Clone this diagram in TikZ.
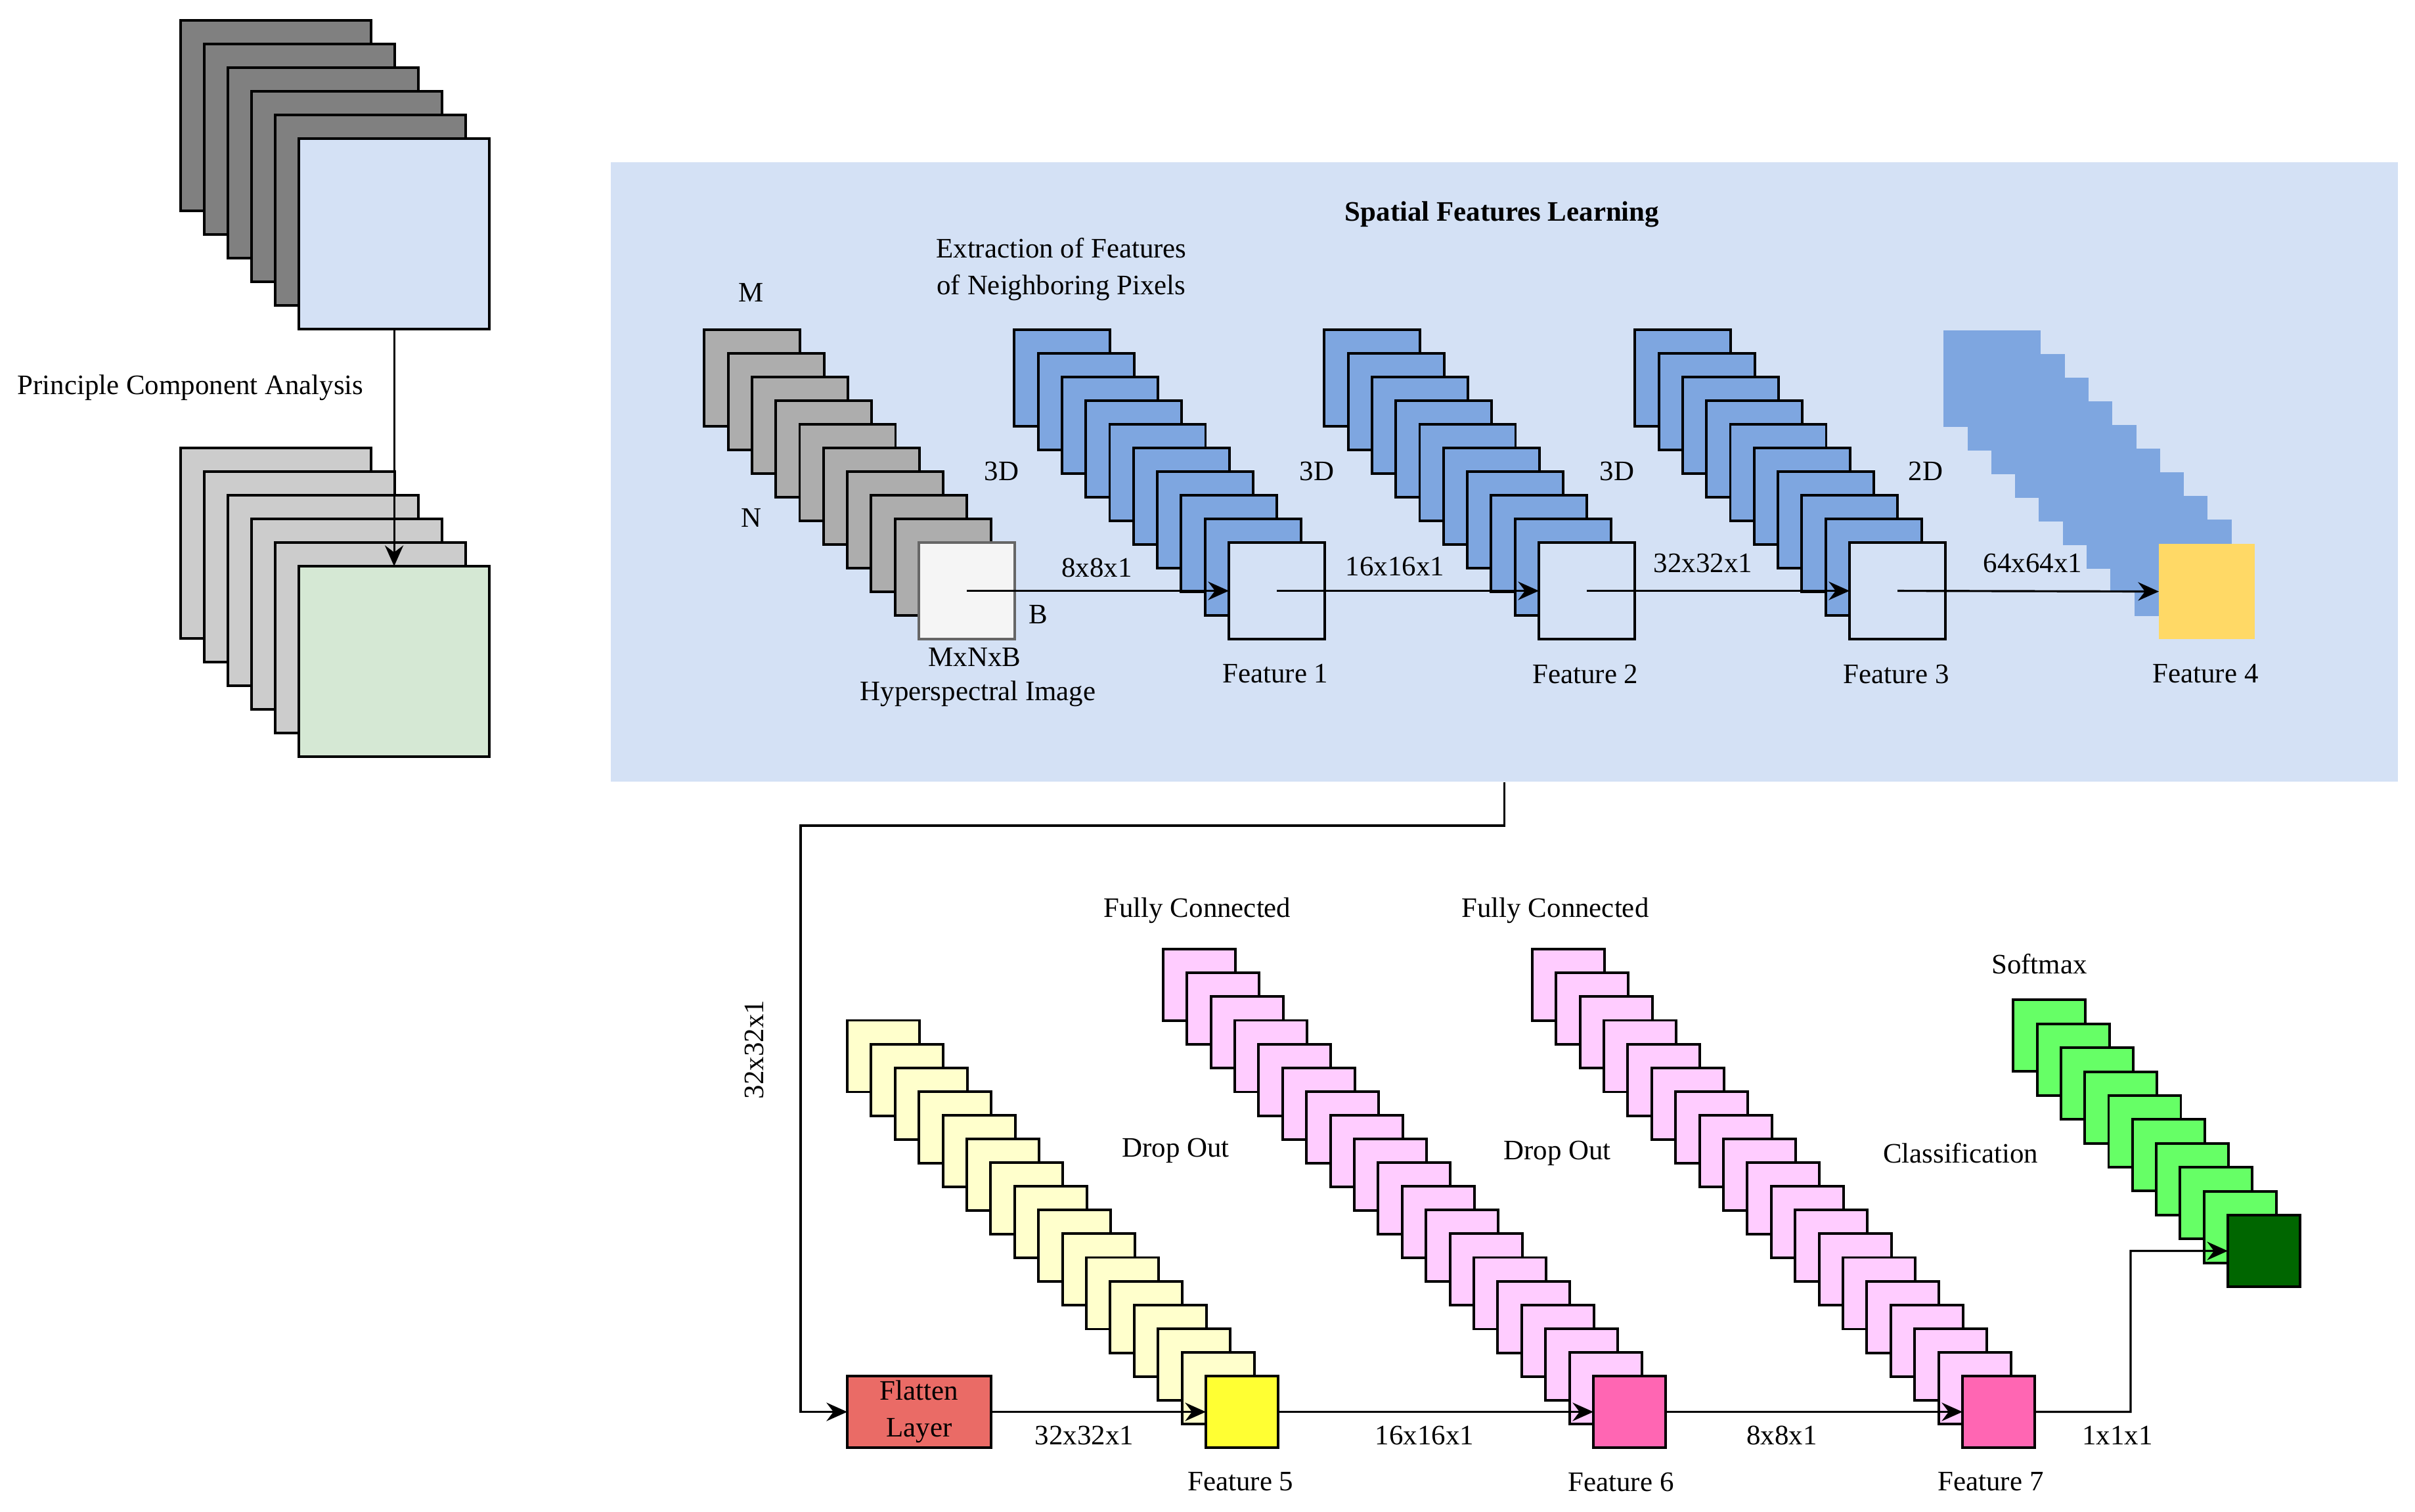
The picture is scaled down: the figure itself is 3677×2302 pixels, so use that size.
\documentclass[tikz,border=0pt]{standalone}
\usepackage{fontspec}
\setmainfont{Liberation Serif}
\usetikzlibrary{arrows.meta}
\definecolor{panelc}{HTML}{D4E1F5}
\definecolor{darkg}{HTML}{808080}
\definecolor{midg}{HTML}{ADADAD}
\definecolor{lightg}{HTML}{CCCCCC}
\definecolor{greenbox}{HTML}{D5E8D4}
\definecolor{bluel}{HTML}{7EA6E0}
\definecolor{goldf}{HTML}{FFD966}
\definecolor{lyellow}{HTML}{FFFFCC}
\definecolor{yellowf}{HTML}{FFFF33}
\definecolor{lpink}{HTML}{FFCCFF}
\definecolor{pinkf}{HTML}{FF66B3}
\definecolor{lgreen}{HTML}{66FF66}
\definecolor{dgreen}{HTML}{006600}
\definecolor{flatc}{HTML}{EA6B66}
\definecolor{wbox}{HTML}{F5F5F5}
\newcommand\layerstack[8]{%
  \foreach \k in {#3,...,1}{%
    \draw[#8] ({#1-\k*#4},{#2-\k*#5}) rectangle ++(#6,#7);}%
}
\begin{document}
\begin{tikzpicture}[x=0.01cm,y=-0.01cm,line join=miter,
  lbl/.style={font=\fontsize{12.2}{16}\selectfont,inner sep=0pt,align=center},
  lay/.style={draw=black,line width=1.1pt},
  arr/.style={line width=0.9pt,-{Stealth[length=9pt,width=8pt,inset=3pt]}},
  box/.style={anchor=north west,inner sep=0pt,outer sep=0pt,line width=1.1pt},
  big/.style={box,minimum width=2.9cm,minimum height=2.9cm},
  mid/.style={box,minimum width=1.46cm,minimum height=1.47cm},
  sml/.style={box,minimum width=1.1cm,minimum height=1.09cm}]
\useasboundingbox (0,0) rectangle (3677,2302);
% ---------- PCA ----------
\layerstack{455}{211}{5}{36}{36}{290}{290}{lay,fill=darkg}
\node[big,draw=black,fill=panelc] (pcain) at (455,211) {};
\layerstack{455}{862}{5}{36}{36}{290}{290}{lay,fill=lightg}
\node[big,draw=black,fill=greenbox] (pcaout) at (455,862) {};
\draw[arr] (pcain.south) -- (pcaout.north);
\node[lbl] (pcalbl) at (290,590) {Principle Component Analysis};
% ---------- panel ----------
\node[anchor=north west,fill=panelc,minimum width=27.2cm,minimum height=9.43cm,inner sep=0pt] (panel) at (929,246) {};
\node[lbl,font=\fontsize{12.2}{16}\selectfont\bfseries] (title) at (2287,326) {Spatial Features Learning};
\node[lbl,font=\fontsize{12.2}{16}\selectfont] (extr) at (1616,410) {Extraction of Features\\of Neighboring Pixels};
% stacks
\layerstack{1399}{826}{9}{36.3}{36}{146}{147}{lay,fill=midg}
\node[mid,draw=black!60,fill=wbox] (hsi) at (1399,826) {};
\layerstack{1871}{826}{9}{36.3}{36}{146}{147}{lay,fill=bluel}
\node[mid,draw=black,fill=panelc] (f1) at (1871,826) {};
\layerstack{2343}{826}{9}{36.3}{36}{146}{147}{lay,fill=bluel}
\node[mid,draw=black,fill=panelc] (f2) at (2343,826) {};
\layerstack{2816}{826}{9}{36.3}{36}{146}{147}{lay,fill=bluel}
\node[mid,draw=black,fill=panelc] (f3) at (2816,826) {};
\layerstack{3287}{828}{9}{36.3}{36}{146}{145}{fill=bluel,draw=bluel,line width=0.6pt}
\node[mid,fill=goldf,minimum height=1.45cm] (f4) at (3287,828) {};
\draw[arr] (hsi.center) -- (f1.west);
\draw[arr] (f1.center) -- (f2.west);
\draw[arr] (f2.center) -- (f3.west);
\draw[arr] (f3.center) -- (f4.west);
% labels top
\node[lbl] (lm) at (1144,445) {M};
\node[lbl] (ln) at (1144,788) {N};
\node[lbl] (lb) at (1581,936) {B};
\node[lbl] (d1) at (1525,717) {3D};
\node[lbl] (d2) at (2005,717) {3D};
\node[lbl] (d3) at (2462,717) {3D};
\node[lbl] (d4) at (2932,717) {2D};
\node[lbl] (mnb) at (1484,1000) {MxNxB};
\node[lbl] (hsil) at (1489,1056) {Hyperspectral Image};
\node[lbl] (s1) at (1670,864) {8x8x1};
\node[lbl] (s2) at (2124,862) {16x16x1};
\node[lbl] (s3) at (2593,857) {32x32x1};
\node[lbl] (s4) at (3095,857) {64x64x1};
\node[lbl] (fl1) at (1942,1026) {Feature 1};
\node[lbl] (fl2) at (2414,1026) {Feature 2};
\node[lbl] (fl3) at (2887,1026) {Feature 3};
\node[lbl] (fl4) at (3358,1026) {Feature 4};
% ---------- bottom ----------
\node[box,draw=black,fill=flatc,minimum width=2.19cm,minimum height=1.09cm,font=\fontsize{12.2}{16}\selectfont,align=center] (flat) at (1290,2095) {Flatten\\Layer};
\layerstack{1836}{2095}{15}{36.4}{36.1}{110}{109}{lay,fill=lyellow}
\node[sml,draw=black,fill=yellowf] (f5) at (1836,2095) {};
\layerstack{2426}{2095}{18}{36.4}{36.1}{110}{109}{lay,fill=lpink}
\node[sml,draw=black,fill=pinkf] (f6) at (2426,2095) {};
\layerstack{2988}{2095}{18}{36.4}{36.1}{110}{109}{lay,fill=lpink}
\node[sml,draw=black,fill=pinkf] (f7) at (2988,2095) {};
\layerstack{3392}{1850}{9}{36.3}{36.4}{110}{109}{lay,fill=lgreen}
\node[sml,draw=black,fill=dgreen] (f8) at (3392,1850) {};
% connectors
\coordinate (c1) at (1219,1257);
\coordinate (c2) at (3244,1904.5);
\draw[arr] (panel.south) |- (c1) |- (flat.west);
\draw[arr] (flat.east) -- (f5.west);
\draw[arr] (f5.east) -- (f6.west);
\draw[arr] (f6.east) -- (f7.west);
\draw[arr] (f7.east) -| (c2) -- (f8.west);
% labels bottom
\node[lbl,rotate=90] (v32) at (1148,1598) {32x32x1};
\node[lbl] (b1) at (1651,2185) {32x32x1};
\node[lbl] (b2) at (2169,2185) {16x16x1};
\node[lbl] (b3) at (2713,2185) {8x8x1};
\node[lbl] (b4) at (3224,2185) {1x1x1};
\node[lbl] (fl5) at (1889,2256) {Feature 5};
\node[lbl] (fl6) at (2468,2256) {Feature 6};
\node[lbl] (fl7) at (3031,2256) {Feature 7};
\node[lbl] (fc1) at (1823,1386) {Fully Connected};
\node[lbl] (fc2) at (2368,1386) {Fully Connected};
\node[lbl] (smx) at (3105,1468) {Softmax};
\node[lbl] (do1) at (1790,1752) {Drop Out};
\node[lbl] (do2) at (2371,1756) {Drop Out};
\node[lbl] (cls) at (2985,1756) {Classification};
\end{tikzpicture}
\end{document}
